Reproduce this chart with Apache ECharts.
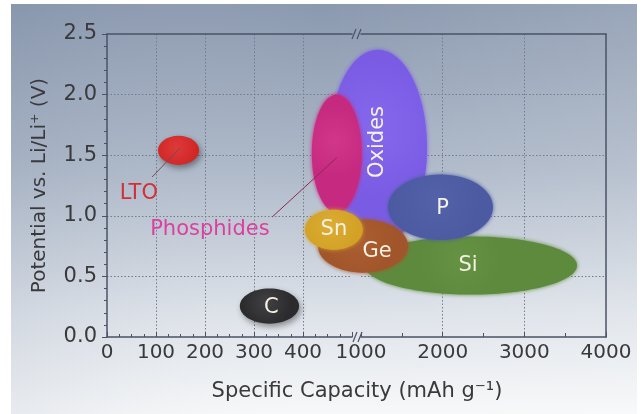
<!DOCTYPE html>
<html><head><meta charset="utf-8">
<script src="https://cdn.jsdelivr.net/npm/echarts@6/dist/echarts.min.js"></script>
<style>html,body{margin:0;padding:0;background:#fff}#c{width:643px;height:414px}</style>
</head><body><div id="c"></div>
<script>
// ---------------- data ----------------
const lowCapTicks   = [0, 100, 200, 300, 400];          // left (linear, expanded) segment
const highCapTicks  = [1000, 2000, 3000, 4000];         // right segment after the axis break
const potentialTicks = [0.0, 0.5, 1.0, 1.5, 2.0, 2.5];

// back-to-front drawing order
const materials  = ['Oxides', 'Si', 'P', 'Phosphides', 'Ge', 'Sn', 'LTO', 'C'];
const capSegment = ['high', 'high', 'high', 'low', 'high', 'low', 'low', 'low'];
const capMin     = [608, 1049, 1331, 418, 473, 404, 104, 271];
const capMax     = [1808, 3645, 2616, 520, 1576, 522, 188, 392];
const potMin     = [0.75, 0.35, 0.80, 1.03, 0.53, 0.72, 1.42, 0.11];
const potMax     = [2.37, 0.83, 1.34, 2.00, 0.97, 1.05, 1.66, 0.40];
const innerLabel = ['Oxides', 'Si', 'P', '', 'Ge', 'Sn', '', 'C'];

// call-out labels (left segment coordinates)
const calloutText = ['LTO', 'Phosphides'];
const calloutAt   = [[65, 1.18], [210, 0.89]];
const leaderFrom  = [[149, 1.56], [469, 1.48]];
const leaderTo    = [[92, 1.32], [337, 0.99]];

// ---------------- styles ----------------
const fillColors  = ['#7a5ce4', '#5e8a3d', '#4b5aa1', '#c62a80', '#a1552a', '#d2a126', '#d02626', '#2b2b2d'];
const lightColors = ['#8468ec', '#669244', '#5361a8', '#d03689', '#ab5e31', '#dcad33', '#de3a3a', '#414143'];
const labelOffset = [[0, -6], [-3, 0], [2, 1], [0, 0], [14, 5], [0, 0], [0, 0], [2, 1]];
const labelRotate = [90, 0, 0, 0, 0, 0, 0, 0];
const calloutColors = ['#d23038', '#dc3f9e'];
const leaderColors  = ['#7a4a55', '#8c2a50'];
const FONT = '"DejaVu Sans", sans-serif';
const axisColor = '#4a5366';
const textColor = '#3a3a3c';

const chart = echarts.init(document.getElementById('c'), null, {renderer: 'canvas'});

const splitStyle = {show: true, showMinLine: false, showMaxLine: false,
  lineStyle: {color: '#737c8c', type: [1.5, 2], width: 1}};
const lineStyle = {color: axisColor, width: 1.5};

const series = [];
materials.forEach((m, i) => {
  const seg = capSegment[i] === 'low' ? 0 : 1;
  const darkShadow = (m === 'C' || m === 'LTO');
  series.push({
    type: 'custom', name: m, xAxisIndex: seg, yAxisIndex: seg,
    z: 3 + i, clip: false, silent: true,
    data: [[capMin[i], capMax[i], potMin[i], potMax[i]]],
    renderItem: (params, api) => {
      const p1 = api.coord([api.value(0), api.value(3)]);
      const p2 = api.coord([api.value(1), api.value(2)]);
      const cx = (p1[0] + p2[0]) / 2, cy = (p1[1] + p2[1]) / 2;
      const rx = Math.abs(p2[0] - p1[0]) / 2, ry = Math.abs(p2[1] - p1[1]) / 2;
      const children = [{
        type: 'ellipse', shape: {cx, cy, rx, ry},
        style: {
          fill: new echarts.graphic.RadialGradient(0.45, 0.4, 0.7, [
            {offset: 0, color: lightColors[i]}, {offset: 1, color: fillColors[i]}]),
          shadowBlur: darkShadow ? 6 : 4,
          shadowColor: darkShadow ? 'rgba(0,0,0,0.4)' : fillColors[i],
          shadowOffsetX: darkShadow ? 2 : 0,
          shadowOffsetY: darkShadow ? 3 : 0
        }
      }];
      if (innerLabel[i]) {
        children.push({
          type: 'text', x: cx + labelOffset[i][0], y: cy + labelOffset[i][1],
          rotation: labelRotate[i] * Math.PI / 180,
          style: {text: innerLabel[i], fill: '#f5f1e4', font: '21px ' + FONT,
            align: 'center', verticalAlign: 'middle'}
        });
      }
      return {type: 'group', children};
    }
  });
});

series.push({
  type: 'custom', name: 'callouts', xAxisIndex: 0, yAxisIndex: 0, z: 30, clip: false, silent: true,
  data: calloutText.map((t, i) => [calloutAt[i][0], calloutAt[i][1],
    leaderFrom[i][0], leaderFrom[i][1], leaderTo[i][0], leaderTo[i][1]]),
  renderItem: (params, api) => {
    const i = params.dataIndex;
    const a = api.coord([api.value(2), api.value(3)]);
    const b = api.coord([api.value(4), api.value(5)]);
    const t = api.coord([api.value(0), api.value(1)]);
    return {type: 'group', children: [
      {type: 'line', shape: {x1: a[0], y1: a[1], x2: b[0], y2: b[1]},
        style: {stroke: leaderColors[i], lineWidth: 1}},
      {type: 'text', x: t[0], y: t[1],
        style: {text: calloutText[i], fill: calloutColors[i], font: '21px ' + FONT,
          align: 'center', verticalAlign: 'middle'}}
    ]};
  }
});

const tickLabel = {fontFamily: FONT, fontSize: 20, color: textColor};

function breakMark(x, y) {
  return {type: 'group', z: 50, children: [0, 5].map(k => ({
    type: 'line', shape: {x1: x - 3 + k, y1: y + 5, x2: x + 1 + k, y2: y - 5},
    style: {stroke: axisColor, lineWidth: 1.2}
  }))};
}

chart.setOption({
  backgroundColor: '#ffffff',
  animation: false,
  graphic: [
    {type: 'rect', z: -100, silent: true, shape: {x: 11, y: 4, width: 626, height: 410},
      style: {fill: new echarts.graphic.LinearGradient(0, 0, 0, 1, [
        {offset: 0, color: '#8b99af'}, {offset: 0.4, color: '#adb8c8'},
        {offset: 0.75, color: '#dde2e9'}, {offset: 1, color: '#f7f8f9'}])}},
    {type: 'rect', z: -99, silent: true, shape: {x: 11, y: 4, width: 626, height: 410},
      style: {fill: new echarts.graphic.LinearGradient(0, 0, 1, 0, [
        {offset: 0, color: 'rgba(120,135,160,0.12)'}, {offset: 0.5, color: 'rgba(255,255,255,0)'},
        {offset: 1, color: 'rgba(255,255,255,0.12)'}])}},
    breakMark(355, 34),
    breakMark(356, 337),
    {type: 'text', x: 357, y: 392, z: 50, silent: true,
      style: {text: 'Specific Capacity (mAh g\u207B\u00B9)', font: '21px ' + FONT, fill: textColor,
        align: 'center', verticalAlign: 'middle'}}
  ],
  grid: [
    {left: 107, top: 34, width: 245, height: 303, containLabel: false, outerBoundsMode: 'none'},
    {left: 361, top: 34, width: 245, height: 303, containLabel: false, outerBoundsMode: 'none'}
  ],
  xAxis: [
    {gridIndex: 0, type: 'value', position: 'bottom', min: 0, max: 500, interval: 100,
      axisLine: {show: true, onZero: false, lineStyle},
      axisTick: {show: true, inside: true, length: 5, lineStyle: {color: axisColor}},
      minorTick: {show: true, splitNumber: 4, length: 3, lineStyle: {color: axisColor}},
      axisLabel: Object.assign({margin: 6, formatter: v => lowCapTicks.includes(v) ? String(v) : ''}, tickLabel),
      splitLine: splitStyle},
    {gridIndex: 1, type: 'value', position: 'bottom', min: 1000, max: 4000, interval: 1000,
      axisLine: {show: true, onZero: false, lineStyle},
      axisTick: {show: true, inside: true, length: 5, lineStyle: {color: axisColor}},
      minorTick: {show: true, splitNumber: 2, length: 4, lineStyle: {color: axisColor}},
      axisLabel: Object.assign({margin: 6, formatter: v => highCapTicks.includes(v) ? String(v) : ''}, tickLabel),
      splitLine: splitStyle},
    {gridIndex: 0, type: 'value', position: 'top', min: 0, max: 500,
      axisLine: {show: true, onZero: false, lineStyle}, axisTick: {show: false},
      axisLabel: {show: false}, splitLine: {show: false}},
    {gridIndex: 1, type: 'value', position: 'top', min: 1000, max: 4000,
      axisLine: {show: true, onZero: false, lineStyle}, axisTick: {show: false},
      axisLabel: {show: false}, splitLine: {show: false}}
  ],
  yAxis: [
    {gridIndex: 0, type: 'value', position: 'left', min: 0, max: 2.5, interval: 0.5,
      name: 'Potential vs. Li/Li\u207A (V)', nameLocation: 'middle', nameRotate: 90, nameGap: 57,
      nameTextStyle: {fontFamily: FONT, fontSize: 20, color: textColor},
      axisLine: {show: true, onZero: false, lineStyle},
      axisTick: {show: true, inside: false, length: 5, lineStyle: {color: axisColor}},
      minorTick: {show: true, splitNumber: 5, length: 3, lineStyle: {color: axisColor}},
      axisLabel: Object.assign({margin: 10, fontSize: 21,
        formatter: v => potentialTicks.some(t => Math.abs(t - v) < 1e-9) ? v.toFixed(1) : ''}, {fontFamily: FONT, color: textColor}),
      splitLine: splitStyle},
    {gridIndex: 1, type: 'value', position: 'right', min: 0, max: 2.5, interval: 0.5,
      axisLine: {show: true, onZero: false, lineStyle}, axisTick: {show: false},
      axisLabel: {show: false}, splitLine: splitStyle}
  ],
  series
});
</script></body></html>
